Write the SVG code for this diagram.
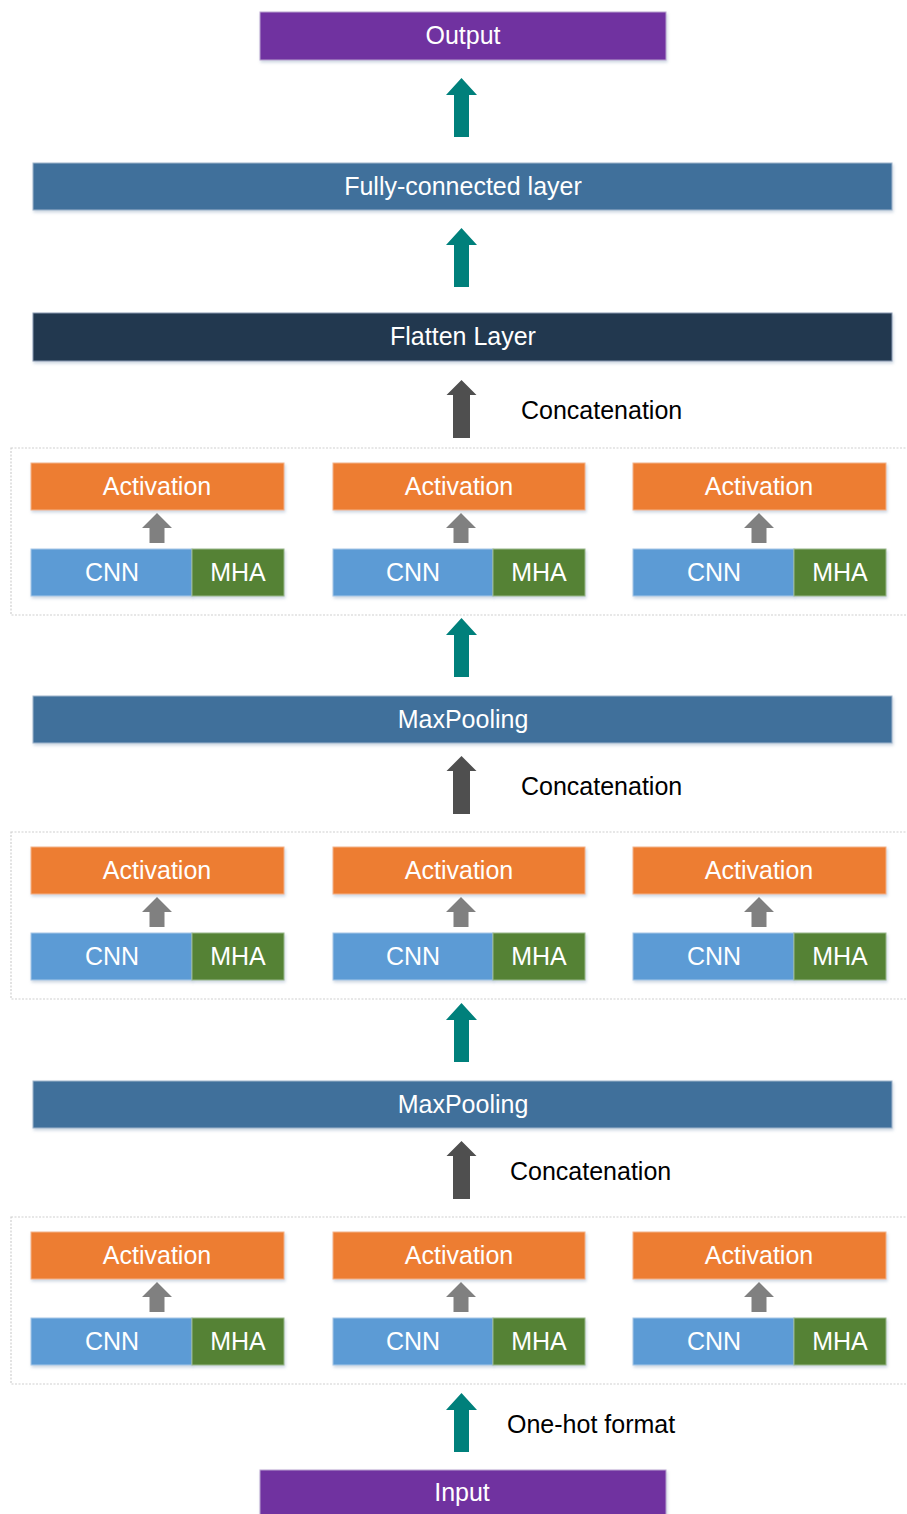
<svg xmlns="http://www.w3.org/2000/svg" width="907" height="1514" viewBox="0 0 907 1514">
<defs>
<filter id="sh" x="-5%" y="-20%" width="110%" height="150%">
<feDropShadow dx="1" dy="2" stdDeviation="1.5" flood-color="#8fa4c0" flood-opacity="0.45"/>
</filter>
<path id="ta" d="M0,0 L15.5,17 L7.5,17 L7.5,59 L-7.5,59 L-7.5,17 L-15.5,17 Z"/>
<path id="ca" d="M0,0 L15,15 L8.5,15 L8.5,58 L-8.5,58 L-8.5,15 L-15,15 Z"/>
<path id="ga" d="M0,0 L15,15 L7.5,15 L7.5,30 L-7.5,30 L-7.5,15 L-15,15 Z"/>
</defs>
<style>
text{font-family:"Liberation Sans",Arial,sans-serif;font-size:25px;text-anchor:middle;}
.w{fill:#ffffff;}
.k{fill:#000000;text-anchor:start;}
.pur{fill:#7030A0;stroke:#b9a4cf;stroke-width:1;filter:url(#sh);}
.blu{fill:#41709B;stroke:#9fb5cc;stroke-width:1;filter:url(#sh);}
.dk{fill:#213750;stroke:#8a9ab0;stroke-width:1;filter:url(#sh);}
.org{fill:#ED7D31;stroke:#f3b48a;stroke-width:1;filter:url(#sh);}
.cnn{fill:#5B9BD5;stroke:#a8c8e8;stroke-width:1;filter:url(#sh);}
.mha{fill:#548235;stroke:#9ab889;stroke-width:1;filter:url(#sh);}
.cont{fill:none;stroke:#cfcfcf;stroke-width:1.2;stroke-dasharray:2 1.5;}
.teal{fill:#00807B;}
.cat{fill:#4F4F4F;}
.gry{fill:#808080;}
</style>

<g id="containers">
<rect class="cont" x="11" y="448" width="910" height="167"/>
<rect class="cont" x="11" y="832" width="910" height="167"/>
<rect class="cont" x="11" y="1217" width="910" height="167"/>
</g>

<g id="output"><rect class="pur" x="260" y="12" width="406" height="48"/><text class="w" x="463" y="44">Output</text></g>
<g id="fc"><rect class="blu" x="33" y="163" width="859" height="47"/><text class="w" x="463" y="195">Fully-connected layer</text></g>
<g id="flatten"><rect class="dk" x="33" y="313" width="859" height="48"/><text class="w" x="463" y="345">Flatten Layer</text></g>
<g id="maxpool1"><rect class="blu" x="33" y="696" width="859" height="47"/><text class="w" x="463" y="728">MaxPooling</text></g>
<g id="maxpool2"><rect class="blu" x="33" y="1081" width="859" height="47"/><text class="w" x="463" y="1113">MaxPooling</text></g>
<g id="input"><rect class="pur" x="260" y="1470" width="406" height="50"/><text class="w" x="462" y="1501">Input</text></g>

<g id="block1">
<rect class="org" x="31" y="463" width="253" height="47"/><text class="w" x="157" y="495">Activation</text>
<rect class="org" x="333" y="463" width="252" height="47"/><text class="w" x="459" y="495">Activation</text>
<rect class="org" x="633" y="463" width="253" height="47"/><text class="w" x="759" y="495">Activation</text>
<rect class="cnn" x="31" y="549" width="161" height="47"/><text class="w" x="112" y="581">CNN</text>
<rect class="mha" x="192" y="549" width="92" height="47"/><text class="w" x="238" y="581">MHA</text>
<rect class="cnn" x="333" y="549" width="160" height="47"/><text class="w" x="413" y="581">CNN</text>
<rect class="mha" x="493" y="549" width="92" height="47"/><text class="w" x="539" y="581">MHA</text>
<rect class="cnn" x="633" y="549" width="161" height="47"/><text class="w" x="714" y="581">CNN</text>
<rect class="mha" x="794" y="549" width="92" height="47"/><text class="w" x="840" y="581">MHA</text>
</g>

<g id="block2">
<rect class="org" x="31" y="847" width="253" height="47"/><text class="w" x="157" y="879">Activation</text>
<rect class="org" x="333" y="847" width="252" height="47"/><text class="w" x="459" y="879">Activation</text>
<rect class="org" x="633" y="847" width="253" height="47"/><text class="w" x="759" y="879">Activation</text>
<rect class="cnn" x="31" y="933" width="161" height="47"/><text class="w" x="112" y="965">CNN</text>
<rect class="mha" x="192" y="933" width="92" height="47"/><text class="w" x="238" y="965">MHA</text>
<rect class="cnn" x="333" y="933" width="160" height="47"/><text class="w" x="413" y="965">CNN</text>
<rect class="mha" x="493" y="933" width="92" height="47"/><text class="w" x="539" y="965">MHA</text>
<rect class="cnn" x="633" y="933" width="161" height="47"/><text class="w" x="714" y="965">CNN</text>
<rect class="mha" x="794" y="933" width="92" height="47"/><text class="w" x="840" y="965">MHA</text>
</g>

<g id="block3">
<rect class="org" x="31" y="1232" width="253" height="47"/><text class="w" x="157" y="1264">Activation</text>
<rect class="org" x="333" y="1232" width="252" height="47"/><text class="w" x="459" y="1264">Activation</text>
<rect class="org" x="633" y="1232" width="253" height="47"/><text class="w" x="759" y="1264">Activation</text>
<rect class="cnn" x="31" y="1318" width="161" height="47"/><text class="w" x="112" y="1350">CNN</text>
<rect class="mha" x="192" y="1318" width="92" height="47"/><text class="w" x="238" y="1350">MHA</text>
<rect class="cnn" x="333" y="1318" width="160" height="47"/><text class="w" x="413" y="1350">CNN</text>
<rect class="mha" x="493" y="1318" width="92" height="47"/><text class="w" x="539" y="1350">MHA</text>
<rect class="cnn" x="633" y="1318" width="161" height="47"/><text class="w" x="714" y="1350">CNN</text>
<rect class="mha" x="794" y="1318" width="92" height="47"/><text class="w" x="840" y="1350">MHA</text>
</g>

<g id="connectors">
<use href="#ta" class="teal" x="461.5" y="78"/>
<use href="#ta" class="teal" x="461.5" y="228"/>
<use href="#ta" class="teal" x="461.5" y="618"/>
<use href="#ta" class="teal" x="461.5" y="1003"/>
<use href="#ta" class="teal" x="461.5" y="1393"/>
<use href="#ca" class="cat" x="461.5" y="380"/>
<use href="#ca" class="cat" x="461.5" y="756"/>
<use href="#ca" class="cat" x="461.5" y="1141"/>
<use href="#ga" class="gry" x="157" y="513"/>
<use href="#ga" class="gry" x="461" y="513"/>
<use href="#ga" class="gry" x="759" y="513"/>
<use href="#ga" class="gry" x="157" y="897"/>
<use href="#ga" class="gry" x="461" y="897"/>
<use href="#ga" class="gry" x="759" y="897"/>
<use href="#ga" class="gry" x="157" y="1282"/>
<use href="#ga" class="gry" x="461" y="1282"/>
<use href="#ga" class="gry" x="759" y="1282"/>
<text class="k" x="521" y="419">Concatenation</text>
<text class="k" x="521" y="795">Concatenation</text>
<text class="k" x="510" y="1180">Concatenation</text>
<text class="k" x="507" y="1433">One-hot format</text>
</g>
</svg>
